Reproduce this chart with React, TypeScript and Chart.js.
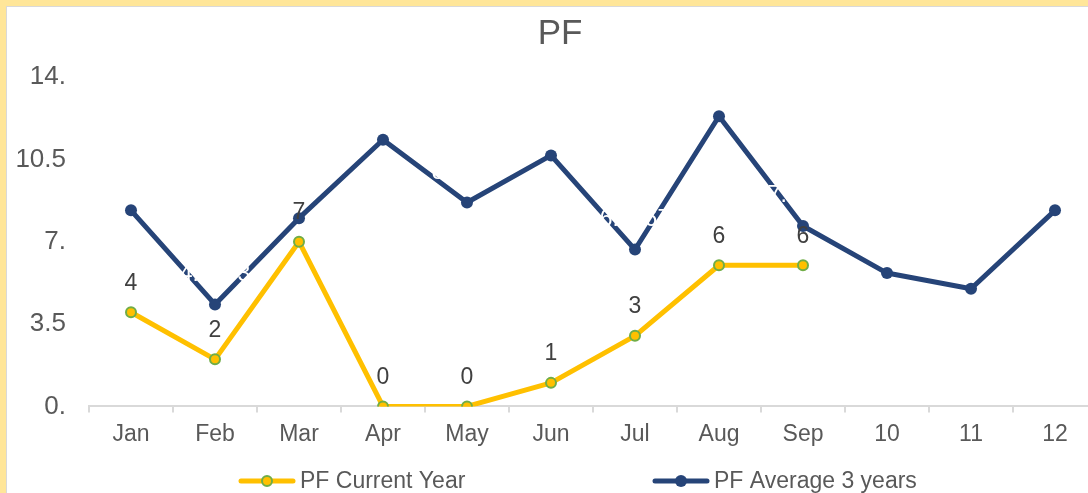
import React, { useEffect, useRef } from "react";
import { Chart, registerables } from "chart.js";

Chart.register(...registerables);

const categories = ["Jan", "Feb", "Mar", "Apr", "May", "Jun", "Jul", "Aug", "Sep", "10", "11", "12"];
const currentYear: (number | null)[] = [4, 2, 7, 0, 0, 1, 3, 6, 6, null, null, null];
const average3Years: number[] = [8.3333, 4.3333, 8, 11.3333, 8.6667, 10.6667, 6.6667, 12.3333, 7.6667, 5.6667, 5, 8.3333];
const yTicks = [0, 3.5, 7, 10.5, 14];
const seriesNames = ["PF Current Year", "PF Average 3 years"];
const chartTitle = "PF";

const FONT = "'Liberation Sans', Arial, sans-serif";
const YELLOW = "#FFC000";
const GREEN = "#70AD47";
const NAVY = "#264478";
const TEXT = "#595959";

function fmt(v: number): string {
  // Excel-like "#.####"
  return v.toFixed(4).replace(/0+$/, "");
}

const labelsPlugin = {
  id: "valueLabels",
  afterDatasetsDraw(chart: any) {
    const ctx = chart.ctx;
    ctx.save();
    ctx.font = `23px ${FONT}`;
    ctx.textAlign = "center";
    ctx.textBaseline = "middle";
    chart.data.datasets.forEach((ds: any, di: number) => {
      const meta = chart.getDatasetMeta(di);
      meta.data.forEach((pt: any, i: number) => {
        const v = ds.data[i];
        if (v === null || v === undefined) return;
        if (di === 0) {
          ctx.fillStyle = "#404040";
          ctx.fillText(String(v), pt.x, pt.y - 29);
        } else {
          ctx.fillStyle = "#FFFFFF";
          ctx.fillText(fmt(v), pt.x, pt.y - 30);
        }
      });
    });
    ctx.restore();
  },
};

const titleLegendPlugin = {
  id: "titleLegend",
  afterDraw(chart: any) {
    const ctx = chart.ctx;
    ctx.save();
    // title
    ctx.fillStyle = TEXT;
    ctx.font = `35px ${FONT}`;
    ctx.textAlign = "center";
    ctx.textBaseline = "middle";
    ctx.fillText(chartTitle, 553, 27);

    // legend
    const y = 474;
    const items = [
      { x: 232, color: YELLOW, fill: YELLOW, stroke: GREEN, r: 5, bw: 2, name: seriesNames[0] },
      { x: 646, color: NAVY, fill: NAVY, stroke: NAVY, r: 6, bw: 0, name: seriesNames[1] },
    ];
    items.forEach((it) => {
      ctx.strokeStyle = it.color;
      ctx.lineWidth = 5;
      ctx.lineCap = "round";
      ctx.beginPath();
      ctx.moveTo(it.x + 2, y);
      ctx.lineTo(it.x + 54, y);
      ctx.stroke();
      ctx.beginPath();
      ctx.arc(it.x + 28, y, it.r, 0, Math.PI * 2);
      ctx.fillStyle = it.fill;
      ctx.fill();
      if (it.bw > 0) {
        ctx.lineWidth = it.bw;
        ctx.strokeStyle = it.stroke;
        ctx.stroke();
      }
      ctx.fillStyle = TEXT;
      ctx.font = `23px ${FONT}`;
      ctx.textAlign = "left";
      ctx.textBaseline = "middle";
      ctx.fillText(it.name, it.x + 61, y + 1);
    });
    ctx.restore();
  },
};

export default function App() {
  const ref = useRef<HTMLCanvasElement | null>(null);
  useEffect(() => {
    if (!ref.current) return;
    document.body.style.margin = "0";
    document.body.style.overflow = "hidden";
    Chart.defaults.font.family = FONT;
    const chart = new Chart(ref.current, {
      type: "line",
      data: {
        labels: categories,
        datasets: [
          {
            label: seriesNames[0],
            data: currentYear,
            borderColor: YELLOW,
            backgroundColor: YELLOW,
            borderWidth: 5,
            tension: 0,
            borderJoinStyle: "round",
            borderCapStyle: "round",
            pointRadius: 5,
            pointBackgroundColor: YELLOW,
            pointBorderColor: GREEN,
            pointBorderWidth: 2,
            spanGaps: false,
            order: 1,
          },
          {
            label: seriesNames[1],
            data: average3Years,
            borderColor: NAVY,
            backgroundColor: NAVY,
            borderWidth: 5,
            tension: 0,
            borderJoinStyle: "round",
            borderCapStyle: "round",
            pointRadius: 6,
            pointBackgroundColor: NAVY,
            pointBorderColor: NAVY,
            pointBorderWidth: 0,
            order: 0,
          },
        ],
      },
      options: {
        responsive: false,
        animation: false,
        devicePixelRatio: 1,
        layout: { padding: { left: 0, right: 10, top: 70, bottom: 51 } },
        plugins: {
          legend: { display: false },
          tooltip: { enabled: false },
          title: { display: false },
        },
        scales: {
          x: {
            offset: true,
            grid: {
              display: true,
              offset: true,
              drawOnChartArea: false,
              drawTicks: true,
              tickLength: 6,
              color: "#D9D9D9",
              lineWidth: 2,
            },
            border: { display: true, color: "#D9D9D9", width: 2 },
            ticks: { color: TEXT, font: { size: 23, family: FONT }, padding: 8, maxRotation: 0, autoSkip: false },
          },
          y: {
            min: 0,
            max: 14,
            afterFit: (scale: any) => {
              scale.width = 82;
            },
            afterBuildTicks: (scale: any) => {
              scale.ticks = yTicks.map((v) => ({ value: v }));
            },
            grid: { display: false, drawTicks: false },
            border: { display: false },
            ticks: {
              color: TEXT,
              font: { size: 26, family: FONT },
              padding: 23,
              callback: (v: any) => fmt(Number(v)),
            },
          },
        },
      },
      plugins: [labelsPlugin, titleLegendPlugin],
    } as any);
    return () => chart.destroy();
  }, []);

  return (
    <div
      style={{
        position: "fixed",
        left: 0,
        top: 0,
        width: 1088,
        height: 493,
        overflow: "hidden",
        background: "#FFE699",
      }}
    >
      <div
        style={{
          position: "absolute",
          left: 6,
          top: 6,
          width: 1200,
          height: 600,
          background: "#FFFFFF",
          borderLeft: "1px solid #D9D9D9",
          borderTop: "1px solid #D9D9D9",
        }}
      >
        <canvas ref={ref} width={1100} height={500} style={{ display: "block", width: 1100, height: 500 }} />
      </div>
    </div>
  );
}
